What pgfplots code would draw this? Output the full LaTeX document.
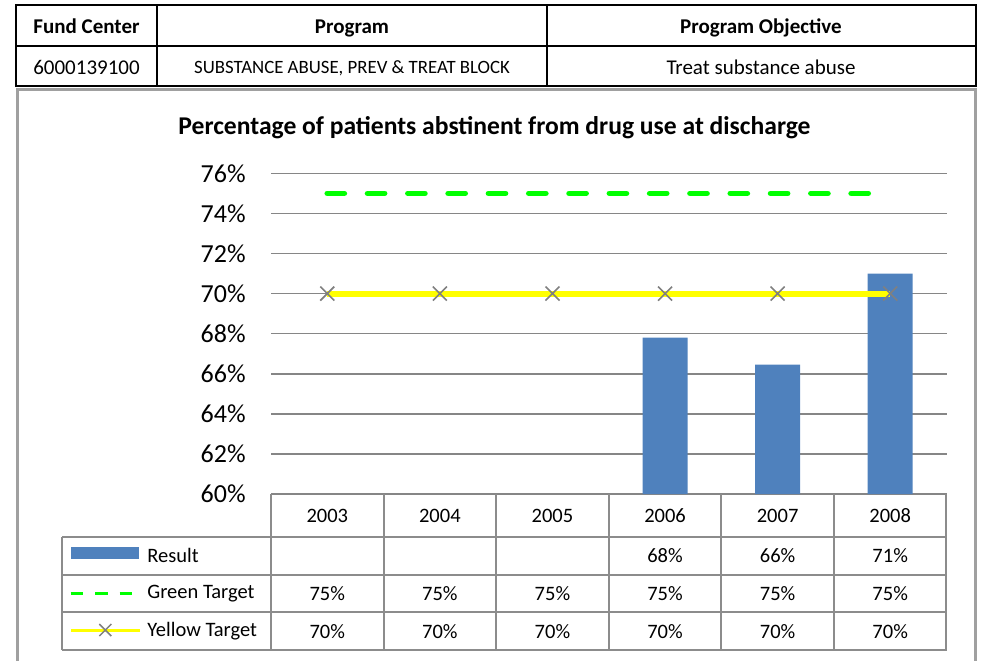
\documentclass[border=0pt]{standalone}
\usepackage{fontspec}
\setmainfont{Carlito}
\usepackage{pgfplots}
\usepackage{pgfplotstable}
\pgfplotsset{compat=1.18}
\definecolor{barblue}{HTML}{4F81BD}
\definecolor{tgreen}{HTML}{00FF00}
\definecolor{tyellow}{HTML}{FFFF00}
\definecolor{markgray}{HTML}{808080}
\definecolor{gridgray}{HTML}{868686}
\definecolor{tablegray}{HTML}{8C8C8C}
\definecolor{framegray}{HTML}{A0A0A0}
\pgfplotstableread{
x year result green yellow
0 2003 nan 75 70
1 2004 nan 75 70
2 2005 nan 75 70
3 2006 67.8 75 70
4 2007 66.45 75 70
5 2008 71.0 75 70
}\datatable
\begin{document}
\begin{tikzpicture}
\useasboundingbox (0,0) rectangle (491.5pt,-330.5pt);
\begin{scope}[x=0.5pt,y=-0.5pt]
  % header table
  \draw[line width=1pt] (16,5) rectangle (975.5,86);
  \draw[line width=1pt] (16,46) -- (975.5,46);
  \draw[line width=1pt] (157,5) -- (157,86);
  \draw[line width=1pt] (547,5) -- (547,86);
  \node[anchor=base,font=\fontsize{10.5pt}{12pt}\selectfont\bfseries] at (86.5,33.3) {Fund Center};
  \node[anchor=base,font=\fontsize{10.5pt}{12pt}\selectfont\bfseries] at (352,33.3) {Program};
  \node[anchor=base,font=\fontsize{10.5pt}{12pt}\selectfont\bfseries] at (761,33.3) {Program Objective};
  \node[anchor=base,font=\fontsize{10.5pt}{12pt}\selectfont] at (86.5,74) {6000139100};
  \node[anchor=base,font=\fontsize{9.4pt}{11pt}\selectfont] at (352,73.5) {SUBSTANCE ABUSE, PREV \& TREAT BLOCK};
  \node[anchor=base,font=\fontsize{10.5pt}{12pt}\selectfont] at (761,74) {Treat substance abuse};
  % chart frame
  \draw[framegray, line width=1.5pt] (17,661) -- (17,89) -- (975,89) -- (975,661);
  % title
  \node[anchor=base,font=\fontsize{12.8pt}{15pt}\selectfont\bfseries] at (494.5,134.3) {Percentage of patients abstinent from drug use at discharge};
\end{scope}
\begin{axis}[
  at={(135.5pt,-247pt)}, anchor=south west,
  scale only axis, width=337.75pt, height=160.35pt,
  xmin=-0.5, xmax=5.5, ymin=60, ymax=76,
  xtick={0,...,5}, xticklabels={2003,2004,2005,2006,2007,2008},
  ytick={60,62,...,76},
  yticklabel={\pgfmathprintnumber{\tick}\%},
  /pgf/number format/assume math mode=true,
  yticklabel style={font=\fontsize{13pt}{15pt}\selectfont, inner sep=0pt, xshift=-12.5pt, anchor=east},
  xticklabel style={font=\fontsize{10.25pt}{12pt}\selectfont, inner sep=0pt, anchor=base, yshift=-14pt},
  major tick style={draw=none},
  axis line style={draw=none},
  ymajorgrids, grid style={gridgray, line width=0.75pt},
  clip=false,
]
\addplot[ybar, bar width=22.5pt, fill=barblue, draw=none] table[x=x,y=result]{\datatable};
\addplot[tgreen, line width=2.85pt, line cap=round, dash pattern=on 8.5pt off 11.65pt, mark=none] table[x=x,y=green]{\datatable};
\addplot[tyellow, line width=3pt, mark=x, mark size=4.95pt, mark options={markgray, line width=0.8pt, solid}] table[x=x,y=yellow]{\datatable};
\end{axis}
\begin{scope}[x=0.5pt,y=-0.5pt]
  % data table grid
  \foreach \i in {0,...,6} \draw[tablegray, line width=1pt] ({271+112.58*\i},494) -- ({271+112.58*\i},650.3);
  \draw[tablegray, line width=1pt] (62,536.7) -- (62,650.3);
  \foreach \yy in {536.7,574.7,612.3,650.3} \draw[tablegray, line width=1pt] (62,\yy) -- (946.5,\yy);
  % legend keys
  \fill[barblue] (70.7,547) rectangle (139,559);
  \draw[tgreen, line width=1.4pt, dash pattern=on 6.35pt off 5.85pt] (70.7,593.5) -- (133,593.5);
  \draw[tyellow, line width=1.5pt] (70.7,630) -- (140,630);
  \draw[markgray, line width=0.75pt] (99.3,624) -- (111.3,636) (99.3,636) -- (111.3,624);
  \node[anchor=west,inner sep=0pt,font=\fontsize{10.25pt}{12pt}\selectfont] at (147,555.7) {Result};
  \node[anchor=west,inner sep=0pt,font=\fontsize{10.25pt}{12pt}\selectfont] at (147,593.5) {Green Target};
  \node[anchor=west,inner sep=0pt,font=\fontsize{10.25pt}{12pt}\selectfont] at (147,631.3) {Yellow Target};
  % values
  \foreach \i/\v in {3/68,4/66,5/71}
    \node[font=\fontsize{10.25pt}{12pt}\selectfont] at ({271+112.58*(\i+0.5)},555.7) {\v\%};
  \foreach \i in {0,...,5} {
    \node[font=\fontsize{10.25pt}{12pt}\selectfont] at ({271+112.58*(\i+0.5)},593.5) {75\%};
    \node[font=\fontsize{10.25pt}{12pt}\selectfont] at ({271+112.58*(\i+0.5)},631.3) {70\%};
  }
\end{scope}
\end{tikzpicture}
\end{document}
